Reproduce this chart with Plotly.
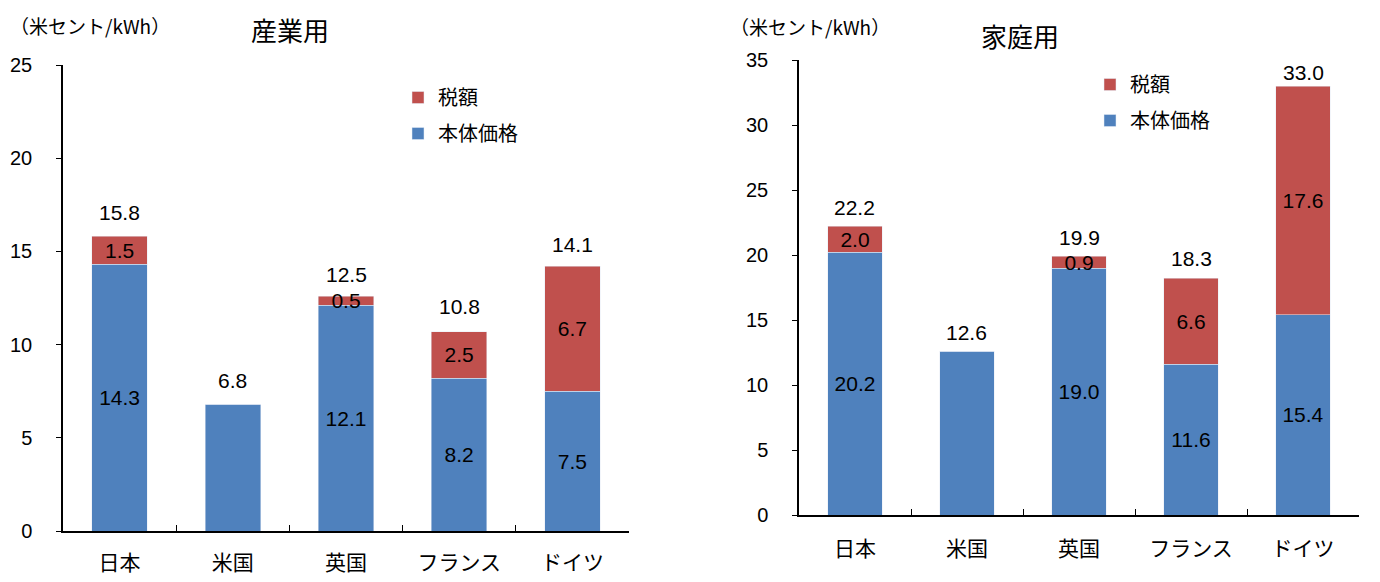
import plotly.graph_objects as go

categories = ["日本", "米国", "英国", "フランス", "ドイツ"]

# 産業用 (industrial)
ind_base = [14.3, 6.8, 12.1, 8.2, 7.5]
ind_base_labels = ["14.3", "", "12.1", "8.2", "7.5"]
ind_tax = [1.5, 0, 0.5, 2.5, 6.7]
ind_tax_labels = ["1.5", "", "0.5", "2.5", "6.7"]
ind_total = [15.8, 6.8, 12.5, 10.8, 14.1]

# 家庭用 (household)
res_base = [20.2, 12.6, 19.0, 11.6, 15.4]
res_base_labels = ["20.2", "", "19.0", "11.6", "15.4"]
res_tax = [2.0, 0, 0.9, 6.6, 17.6]
res_tax_labels = ["2.0", "", "0.9", "6.6", "17.6"]
res_total = [22.2, 12.6, 19.9, 18.3, 33.0]

BLUE = "#4F81BD"
RED = "#C0504D"
FONT = "Liberation Sans, Arial, Noto Sans CJK JP"
JFONT = "Noto Sans CJK JP, Liberation Sans"

W, H = 1380, 582
OFF = 8  # page body margin


def px(x):
    return (x - OFF) / W


def py(y):
    return 1 - (y - OFF) / H


fig = go.Figure()


def add_pair(base, base_lbl, tax, tax_lbl, xa, ya, legend):
    fig.add_trace(go.Bar(
        x=categories, y=base, name="本体価格", marker_color=BLUE,
        text=base_lbl, textposition="inside", insidetextanchor="middle",
        constraintext="none", textfont=dict(family=FONT, size=21, color="black"),
        xaxis=xa, yaxis=ya, legend=legend, legendgroup=legend + "b", legendrank=2,
        hoverinfo="skip"))
    fig.add_trace(go.Bar(
        x=categories, y=tax, name="税額", marker_color=RED,
        text=tax_lbl, textposition="inside", insidetextanchor="middle",
        constraintext="none", textfont=dict(family=FONT, size=21, color="black"),
        xaxis=xa, yaxis=ya, legend=legend, legendgroup=legend + "t", legendrank=1,
        hoverinfo="skip"))


add_pair(ind_base, ind_base_labels, ind_tax, ind_tax_labels, "x", "y", "legend")
add_pair(res_base, res_base_labels, res_tax, res_tax_labels, "x2", "y2", "legend2")

annotations = []
for c, t in zip(categories, ind_total):
    annotations.append(dict(x=c, y=t, xref="x", yref="y", text=f"{t:.1f}",
                            showarrow=False, yanchor="bottom", yshift=10,
                            font=dict(family=FONT, size=21, color="black")))
for c, t in zip(categories, res_total):
    annotations.append(dict(x=c, y=t, xref="x2", yref="y2", text=f"{t:.1f}",
                            showarrow=False, yanchor="bottom", yshift=0 if t > 30 else 5,
                            font=dict(family=FONT, size=21, color="black")))

annotations += [
    dict(x=0, y=py(25), xref="paper", yref="paper", text="（米セント/kWh）",
         showarrow=False, xanchor="left", yanchor="middle",
         font=dict(family=JFONT, size=19, color="black")),
    dict(x=px(290), y=py(30), xref="paper", yref="paper", text="産業用",
         showarrow=False, xanchor="center", yanchor="middle",
         font=dict(family=JFONT, size=26, color="black")),
    dict(x=px(728), y=py(27), xref="paper", yref="paper", text="（米セント/kWh）",
         showarrow=False, xanchor="left", yanchor="middle",
         font=dict(family=JFONT, size=19, color="black")),
    dict(x=px(1020), y=py(35), xref="paper", yref="paper", text="家庭用",
         showarrow=False, xanchor="center", yanchor="middle",
         font=dict(family=JFONT, size=26, color="black")),
]

xcommon = dict(type="category", showline=True, linecolor="black", linewidth=1.5,
               ticks="inside", tickson="boundaries", ticklen=6, tickcolor="black",
               showgrid=False, tickfont=dict(family=JFONT, size=21, color="black"),
               fixedrange=True, automargin=False)
ycommon = dict(showline=True, linecolor="black", linewidth=1.5, ticks="outside",
               ticklen=5, tickcolor="black", showgrid=False, zeroline=False,
               tickfont=dict(family=FONT, size=20, color="black"),
               ticklabelstandoff=20, dtick=5, fixedrange=True, automargin=False)

legcommon = dict(font=dict(family=JFONT, size=20, color="black"),
                 traceorder="grouped", tracegroupgap=7,
                 bgcolor="rgba(0,0,0,0)", itemwidth=30,
                 xanchor="left", yanchor="top", xref="paper", yref="paper")

fig.update_layout(
    width=W, height=H,
    margin=dict(l=0, r=0, t=0, b=0),
    paper_bgcolor="white", plot_bgcolor="white",
    barmode="stack", bargap=0.51,
    showlegend=True,
    xaxis=dict(domain=[px(63), px(629)], anchor="y", ticklabelstandoff=12, **xcommon),
    yaxis=dict(domain=[py(531), py(65)], anchor="x", range=[0, 25], **ycommon),
    xaxis2=dict(domain=[px(799), px(1359)], anchor="y2", ticklabelstandoff=14, **xcommon),
    yaxis2=dict(domain=[py(515), py(60)], anchor="x2", range=[0, 35], **ycommon),
    legend=dict(x=px(398), y=py(78), **legcommon),
    legend2=dict(x=px(1090), y=py(65), **legcommon),
    annotations=annotations,
)

fig.write_html("out.html")
